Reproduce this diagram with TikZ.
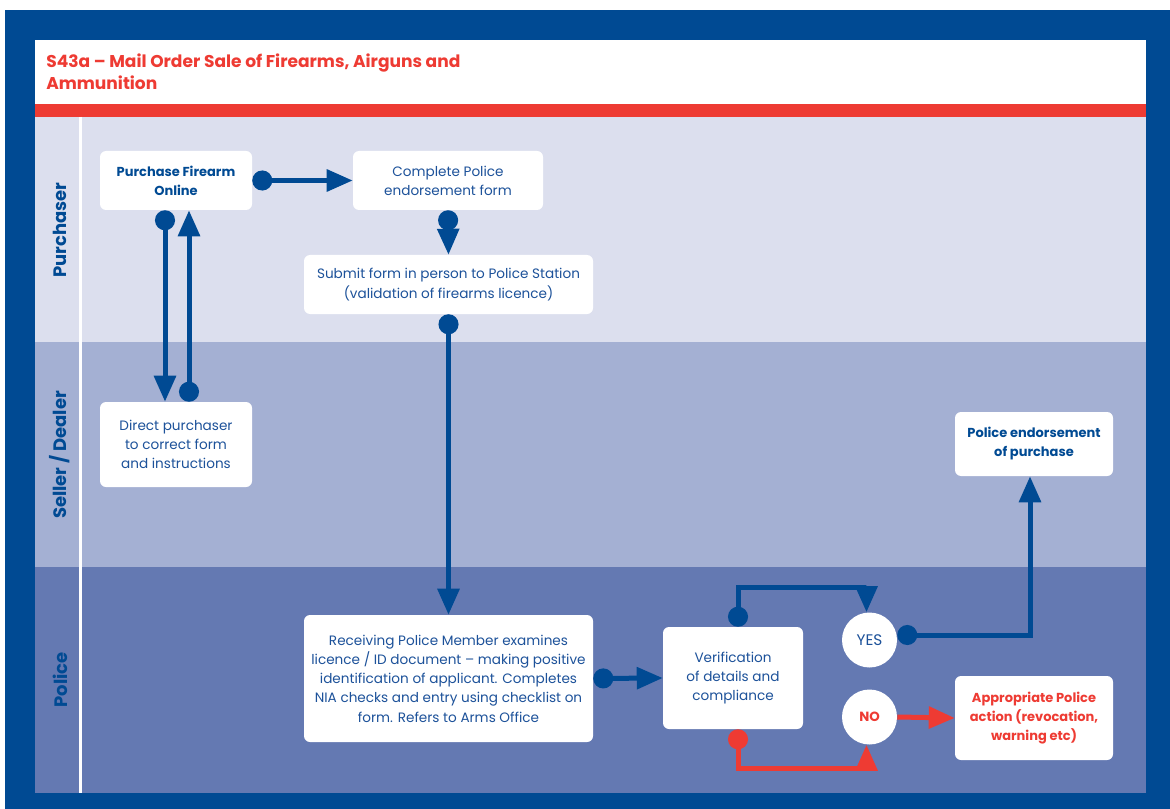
\documentclass[tikz,border=0pt]{standalone}
\usepackage{fontspec}
\setmainfont{Poppins}
\usetikzlibrary{arrows.meta,calc}
\definecolor{frame}{HTML}{004A93}
\definecolor{redc}{HTML}{EE3B33}
\definecolor{laneA}{HTML}{DCDFEE}
\definecolor{laneB}{HTML}{A4B0D3}
\definecolor{laneC}{HTML}{6479B2}
\definecolor{txtblue}{HTML}{1D529A}
\tikzset{
  box/.style={fill=white, rounded corners=4.5pt, inner sep=0pt, align=center, text=txtblue,
    font=\fontsize{10.2}{14.4}\selectfont},
  boldbox/.style={box, text=frame, font=\fontsize{9.75}{14.25}\selectfont\bfseries},
  redbox/.style={box, text=redc, font=\fontsize{9.75}{14.25}\selectfont\bfseries},
  ring/.style={circle, fill=white, inner sep=0pt, minimum size=41.25pt, font=\fontsize{11.5}{12}\selectfont},
  lanelab/.style={rotate=90, text=frame, font=\fontsize{13.5}{16}\selectfont\bfseries},
  conn/.style={line width=3.75pt, draw=frame},
  rconn/.style={line width=3.75pt, draw=redc},
  dotarrow/.style={{Circle[length=15pt]}-{Triangle[length=19.5pt,width=16pt]}},
  plainarrow/.style={-{Triangle[length=19.5pt,width=16pt]}}
}
\begin{document}
\begin{tikzpicture}[x=0.75pt,y=-0.75pt]
\useasboundingbox (0,0) rectangle (1170,809);
\fill[white] (0,0) rectangle (1170,809);
\fill[frame] (5,10) rectangle (1170,809);
\fill[white] (35,40) rectangle (1146,104);
\fill[redc] (35,104) rectangle (1146,117);
\fill[laneA] (35,117) rectangle (1146,342);
\fill[laneB] (35,342) rectangle (1146,567);
\fill[laneC] (35,567) rectangle (1146,793);
\draw[white, line width=2.25pt] (80,117) -- (80,793);

% title
\node[anchor=base west, align=left, text=redc, inner sep=0pt,
  font=\fontsize{12.8}{16.5}\selectfont\bfseries] (title) at (46,90)
  {S43a – Mail Order Sale of Firearms, Airguns and\\Ammunition};

% lane labels
\node[lanelab] (lp) at (60,230) {Purchaser};
\node[lanelab] (ls) at (60,455) {Seller / Dealer};
\node[lanelab] (lpo) at (60,680) {Police};

% boxes
\node[boldbox, minimum width=114pt, minimum height=44.25pt] (pfo) at (176,180.5) {Purchase Firearm\\Online};
\node[box, minimum width=142.5pt, minimum height=44.25pt] (cpe) at (448,180.5) {Complete Police\\endorsement form};
\node[box, minimum width=216.75pt, minimum height=44.25pt] (sub) at (448.5,284.5) {Submit form in person to Police Station\\(validation of firearms licence)};
\node[box, minimum width=114pt, minimum height=63.75pt] (dir) at (176,444.5) {Direct purchaser\\to correct form\\and instructions};
\node[boldbox, minimum width=118.5pt, minimum height=48pt] (pe) at (1034,444) {Police endorsement\\of purchase};
\node[box, minimum width=216.75pt, minimum height=95.25pt] (rec) at (448.5,678.5) {Receiving Police Member examines\\licence / ID document – making positive\\identification of applicant. Completes\\NIA checks and entry using checklist on\\form. Refers to Arms Office};
\node[box, minimum width=105pt, minimum height=76.5pt] (ver) at (733,678) {Verification\\of details and\\compliance};
\node[redbox, minimum width=118.5pt, minimum height=63pt] (apa) at (1034,718) {Appropriate Police\\action (revocation,\\warning etc)};
\node[ring, text=txtblue] (yes) at (869.5,640) {YES};
\node[ring, text=redc, font=\fontsize{10}{12}\selectfont\bfseries] (no) at (869.5,717) {NO};

% connectors
\draw[conn, dotarrow] (pfo.east) -- (cpe.west);
\draw[conn, dotarrow] ($(pfo.south)+(-11,0)$) -- ($(dir.north)+(-11,0)$);
\draw[conn, dotarrow] ($(dir.north)+(13,0)$) -- ($(pfo.south)+(13,0)$);
\draw[conn, dotarrow] (cpe.south) -- (sub.north);
\draw[conn, dotarrow] (sub.south) -- (rec.north);
\draw[conn, dotarrow] (rec.east) -- (ver.west);
\draw[conn, dotarrow] ($(ver.north)+(5,0)$) -- ++(0,-39) -| ($(yes.north)+(-3,0)$);
\draw[rconn, dotarrow] ($(ver.south)+(5,0)$) -- ++(0,39) -| ($(no.south)+(-3,0)$);
\draw[conn, dotarrow] ($(yes.east)+(0,-5)$) -| ($(pe.south)+(-4,0)$);
\draw[rconn, plainarrow] (no.east) -- (apa.west);
\end{tikzpicture}
\end{document}
